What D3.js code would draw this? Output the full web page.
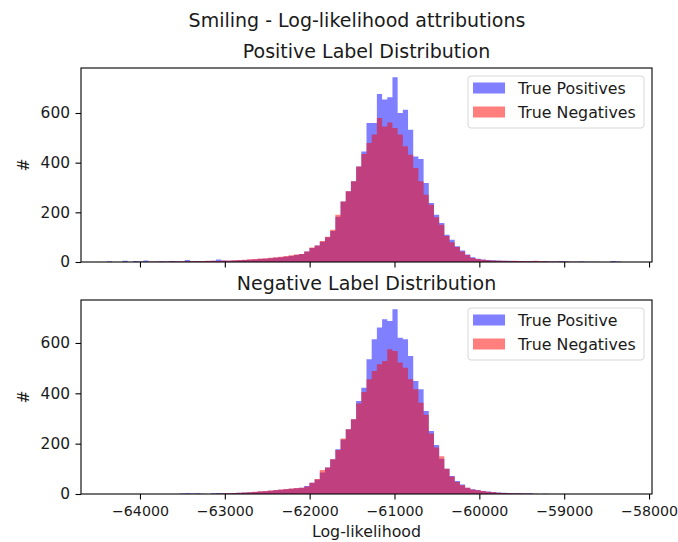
<!DOCTYPE html>
<html>
<head>
<meta charset="utf-8">
<script src="https://cdn.jsdelivr.net/npm/d3@7"></script>
<style>
  body { margin: 0; background: #fff; }
  text { font-family: "DejaVu Sans", sans-serif; fill: #1a1a1a; }
</style>
</head>
<body>
<div id="chart"></div>
<script>
var w = 678;
var h = 542;

// histogram bins (shared by all series)
var binStart = -64389;
var binWidth = 61.18;
var binCount = 100;

var xTicks = [-64000, -63000, -62000, -61000, -60000, -59000, -58000];
var yTicks = [0, 200, 400, 600];

// Positive label distribution
var posTruePos = [
  3,0,0,5,0,4,2,6,1,2,
  3,2,4,3,2,8,3,4,3,4,
  5,10,6,5,6,7,8,9,10,12,
  13,15,17,19,21,24,28,32,42,56,
  66,82,100,125,182,244,285,325,385,445,
  560,560,677,654,663,744,600,613,533,425,
  415,318,238,190,157,110,90,63,46,30,
  19,13,10,8,7,6,5,5,4,4,
  3,4,3,2,3,2,2,4,2,1,
  1,2,1,0,1,0,0,4,2,0];
var posTrueNeg = [
  0,0,0,0,0,0,1,0,2,1,
  2,2,3,2,3,3,4,3,4,5,
  5,4,6,6,7,8,9,11,12,14,
  15,17,19,21,24,27,30,32,42,58,
  66,85,102,130,190,244,285,325,385,435,
  479,513,580,546,562,540,513,466,432,379,
  325,271,231,180,150,105,80,60,42,28,
  16,12,9,7,6,5,5,4,5,4,
  4,3,5,4,3,2,2,1,2,1,
  1,1,0,1,0,0,0,0,0,0];

// Negative label distribution
var negTruePos = [
  0,0,0,0,0,0,0,0,0,0,
  0,0,0,0,2,3,2,3,1,0,
  3,4,3,3,4,5,6,7,8,10,
  11,13,15,17,19,21,23,25,32,45,
  58,85,105,138,178,217,257,297,369,422,
  535,615,661,694,687,734,621,615,548,449,
  416,330,250,195,140,100,72,52,38,25,
  19,16,12,10,8,6,5,4,3,3,
  2,3,0,0,1,0,0,0,0,0,
  0,0,0,0,0,0,0,0,0,0];
var negTrueNeg = [
  0,0,0,0,0,0,0,0,0,0,
  0,0,0,0,0,0,0,0,0,0,
  0,1,2,3,4,5,6,7,9,11,
  12,14,16,18,20,22,24,25,30,45,
  60,95,105,138,175,220,257,297,360,405,
  456,489,515,528,575,568,522,502,456,416,
  363,315,240,185,150,100,70,48,35,25,
  18,15,12,9,7,5,4,3,3,2,
  2,1,1,0,0,0,0,0,0,0,
  0,0,0,0,0,0,0,0,0,0];

var panels = [
  {title: "Positive Label Distribution", top: 68, blue: posTruePos, red: posTrueNeg,
   labels: ["True Positives", "True Negatives"], showX: false},
  {title: "Negative Label Distribution", top: 300, blue: negTruePos, red: negTrueNeg,
   labels: ["True Positive", "True Negatives"], showX: true}
];

var left = 81, right = 652, ph = 194;
var fs = 15.4;

var svg = d3.select("#chart")
  .append("svg")
  .attr("width", w)
  .attr("height", h);

svg.append("text")
  .attr("x", 357)
  .attr("y", 27)
  .attr("text-anchor", "middle")
  .attr("font-size", 19)
  .text("Smiling - Log-likelihood attributions");

var x = d3.scaleLinear().domain([-64695, -57965]).range([left, right]);

var edges = d3.range(binCount + 1).map(function(i) { return binStart + i * binWidth; });

panels.forEach(function(p) {
  var ymax = d3.max(p.blue.concat(p.red)) * 1.05;
  var y = d3.scaleLinear().domain([0, ymax]).range([p.top + ph, p.top]);
  var g = svg.append("g");

  var area = d3.area()
    .curve(d3.curveStepAfter)
    .x(function(d) { return x(d[0]); })
    .y0(y(0))
    .y1(function(d) { return y(d[1]); });

  function pts(vals) {
    var a = vals.map(function(v, i) { return [edges[i], v]; });
    a.push([edges[binCount], vals[binCount - 1]]);
    return a;
  }

  g.append("path").attr("d", area(pts(p.blue)))
    .attr("fill", "blue").attr("fill-opacity", 0.5);
  g.append("path").attr("d", area(pts(p.red)))
    .attr("fill", "red").attr("fill-opacity", 0.5);

  // axes
  var xa = g.append("g")
    .attr("transform", "translate(0," + (p.top + ph) + ")")
    .call(d3.axisBottom(x).tickValues(xTicks).tickSize(5.5).tickPadding(6)
      .tickFormat(p.showX ? d3.format("d") : ""));
  var ya = g.append("g")
    .attr("transform", "translate(" + left + ",0)")
    .call(d3.axisLeft(y).tickValues(yTicks).tickSize(5.5).tickPadding(5.5));
  [xa, ya].forEach(function(a) {
    a.select(".domain").remove();
    a.selectAll("line").attr("stroke", "#000").attr("stroke-width", 1.1);
    a.selectAll("text").attr("font-size", fs).attr("fill", "#1a1a1a")
      .style("font-family", "DejaVu Sans");
  });
  xa.selectAll("text").attr("font-size", 14.2);

  g.append("rect")
    .attr("x", left).attr("y", p.top)
    .attr("width", right - left).attr("height", ph)
    .attr("fill", "none").attr("stroke", "#000").attr("stroke-width", 1.1);

  g.append("text")
    .attr("x", (left + right) / 2)
    .attr("y", p.top - 10)
    .attr("text-anchor", "middle")
    .attr("font-size", 19)
    .text(p.title);

  g.append("text")
    .attr("transform", "translate(29," + (p.top + ph / 2) + ") rotate(-90)")
    .attr("text-anchor", "middle")
    .attr("font-size", fs)
    .text("#");

  // legend
  var lx = right - 8 - 176, ly = p.top + 8;
  g.append("rect")
    .attr("x", lx).attr("y", ly).attr("width", 176).attr("height", 52)
    .attr("rx", 3).attr("fill", "#fff").attr("fill-opacity", 0.8)
    .attr("stroke", "#d6d6d6").attr("stroke-width", 1);
  [["blue", p.labels[0]], ["red", p.labels[1]]].forEach(function(e, i) {
    var cy = ly + 12 + i * 24;
    g.append("rect")
      .attr("x", lx + 5).attr("y", cy - 5.5)
      .attr("width", 32).attr("height", 11)
      .attr("fill", e[0]).attr("fill-opacity", 0.5);
    g.append("text")
      .attr("x", lx + 50).attr("y", cy + 5.5)
      .attr("font-size", 15.8)
      .text(e[1]);
  });
});

svg.append("text")
  .attr("x", (left + right) / 2)
  .attr("y", 537)
  .attr("text-anchor", "middle")
  .attr("font-size", 15.8)
  .text("Log-likelihood");
</script>
</body>
</html>
